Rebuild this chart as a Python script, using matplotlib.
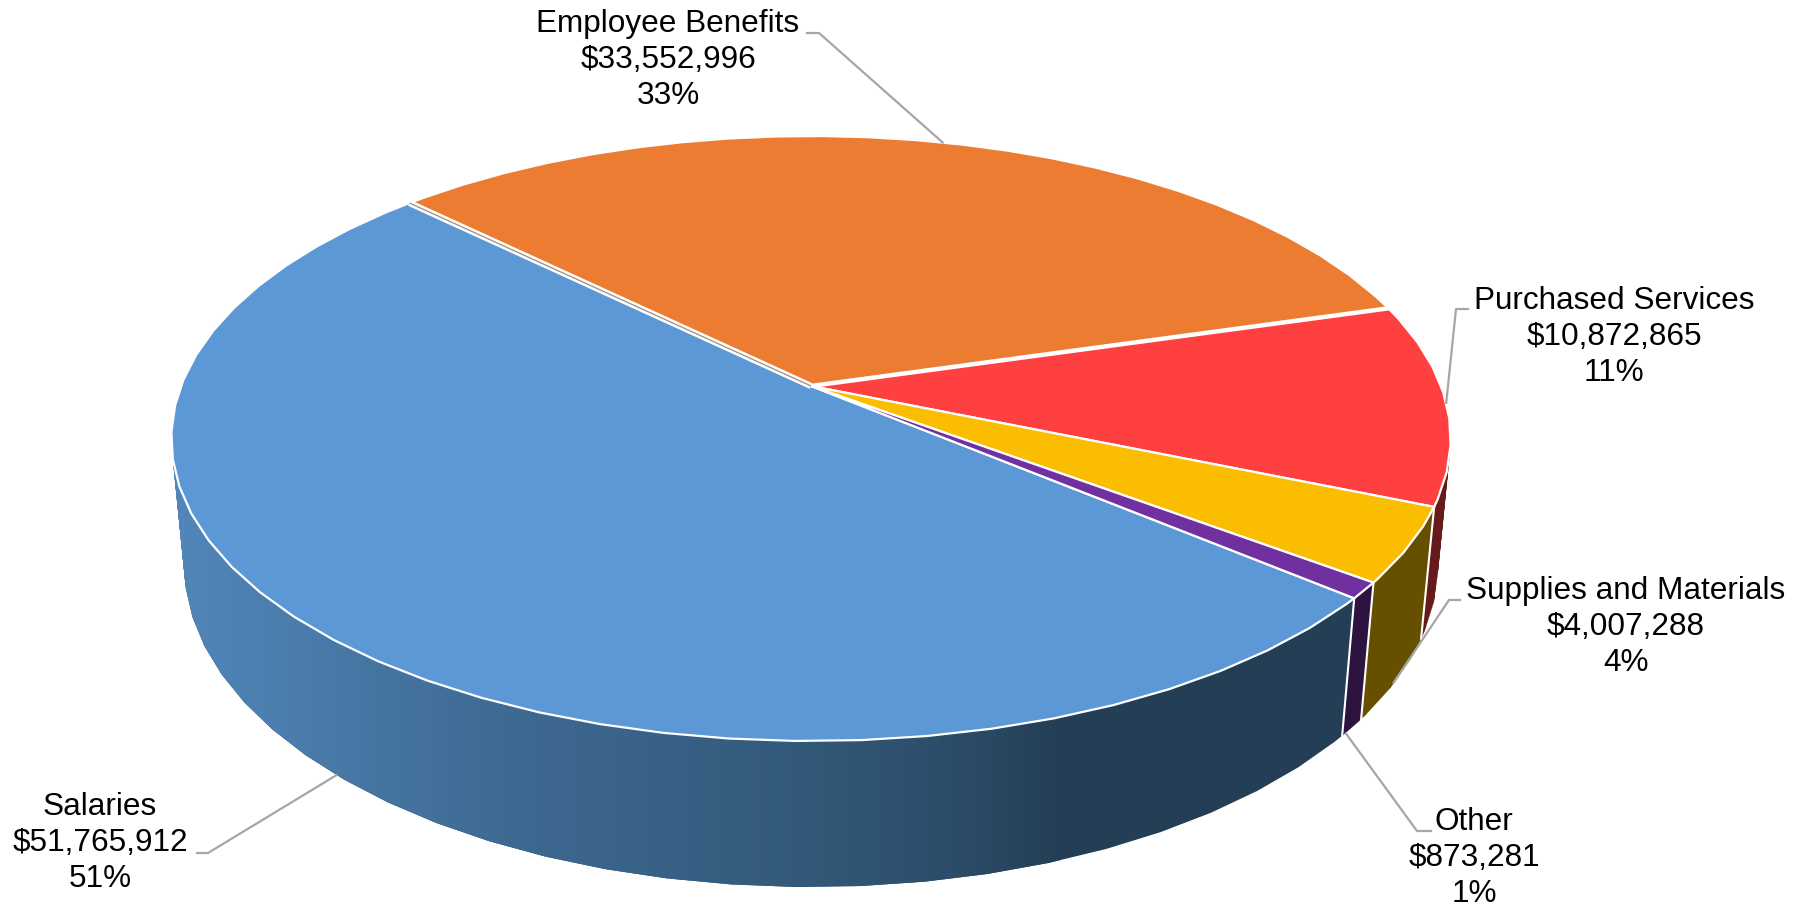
"""
Expenditure split drawn as a tilted 3D pie with perspective, saved to out.png.
"""
import numpy as np
import matplotlib
matplotlib.use("Agg")
import matplotlib.pyplot as plt
from matplotlib.patches import PathPatch, Polygon
from matplotlib.path import Path
from matplotlib.colors import LinearSegmentedColormap

categories = ["Salaries", "Employee Benefits", "Purchased Services",
              "Supplies and Materials", "Other"]
amounts = [51765912, 33552996, 10872865, 4007288, 873281]
percents = [51, 33, 11, 4, 1]

top_colors = ["#5B98D5", "#EB7C31", "#FF4040", "#FBBD00", "#7030A0"]
side_colors = ["#243F55", "#6B3A16", "#661A1A", "#665000", "#2C1340"]

# label centre (x, y of the middle line), text end of the leader, and its elbow
label_pos = [(100, 843), (668, 60), (1614, 337), (1626, 627), (1474, 858)]
leader_start = [(197, 853), (807, 33), (1468, 309), (1460, 600), (1431, 831)]
leader_elbow = [(208, 853), (819, 33), (1456, 309), (1449, 600), (1417, 831)]
leader_on_bottom = [True, False, False, True, True]
leader_nudge = [(0, 0), (0, 0), (0, 0), (-3, 3), (-6, 6)]

# pie geometry in pixels
CX, CY = 811, 386
A, B, K = 630.0, 293.4, 0.1736
START_DEG = 40.0  # Salaries starts here, going clockwise from 3 o'clock
VANISH_Y = 6800.0
FACET_DEG = 5.0  # the rim is a polygon, not a true curve
FACET_PHASE = 1.2


def top_rim(deg):
    t = np.radians(deg)
    u, v = np.cos(t), np.sin(t)
    w = 1 - K * v
    return CX + A * u / w, CY + B * v / w


def bottom_rim(deg):
    x, y = top_rim(deg)
    h = 146 - 0.06 * (741 - y)
    s = 1 - h / (VANISH_Y - y)
    return CX + (x - CX) * s, y + h


def arc(func, a0, a1):
    grid = np.arange(np.ceil((a0 - FACET_PHASE) / FACET_DEG),
                     np.floor((a1 - FACET_PHASE) / FACET_DEG) + 1) * FACET_DEG + FACET_PHASE
    degs = np.concatenate([[a0], grid[(grid > a0) & (grid < a1)], [a1]])
    x, y = func(degs)
    return np.column_stack([x, y])


def wall_path(a0, a1):
    """Wall of a slice as one closed quad per facet, all wound the same way."""
    top = arc(top_rim, a0, a1)
    bot = arc(bottom_rim, a0, a1)
    verts, codes = [], []
    for j in range(len(top) - 1):
        quad = np.array([top[j], top[j + 1], bot[j + 1], bot[j]])
        x, y = quad[:, 0], quad[:, 1]
        area = np.sum(x * np.roll(y, -1) - np.roll(x, -1) * y)
        if area < 0:
            quad = quad[::-1]
        verts.extend(list(quad) + [quad[0]])
        codes.extend([Path.MOVETO, Path.LINETO, Path.LINETO, Path.LINETO, Path.CLOSEPOLY])
    return Path(np.array(verts), codes)


total = sum(amounts)
spans = [a / total * 360 for a in amounts]
# clockwise order on the disc: Salaries, Benefits, Services, Supplies, Other
starts = []
ang = START_DEG
for span in spans:
    starts.append(ang)
    ang += span

fig = plt.figure(figsize=(18.06, 9.09), dpi=100)
ax = fig.add_axes([0, 0, 1, 1])
ax.set_xlim(0, 1806)
ax.set_ylim(909, 0)
ax.axis("off")

# side walls, back to front
blue_ramp = LinearSegmentedColormap.from_list(
    "wall", [(0, "#5287BB"), (0.37, "#3F6A93"), (0.70, "#335A7B"),
             (0.88, "#2C4D69"), (1, "#243F55")])
for i in [2, 3, 4]:
    a0, a1 = starts[i], starts[i] + spans[i]
    ax.add_patch(PathPatch(wall_path(a0, a1), fc=side_colors[i], ec=side_colors[i],
                           lw=0.3, zorder=2))

a0, a1 = starts[0], starts[0] + spans[0]
salaries_wall = PathPatch(wall_path(a0, a1), fc=side_colors[0], ec="none", zorder=2)
ax.add_patch(salaries_wall)
grad = np.linspace(0, 1, 512).reshape(1, -1)
im = ax.imshow(grad, cmap=blue_ramp, extent=[170, 1060, 909, 0], aspect="auto", zorder=2.1)
im.set_clip_path(salaries_wall)
ax.set_xlim(0, 1806)
ax.set_ylim(909, 0)

# white seams where the front walls meet
for deg in [starts[0], starts[4], starts[3]]:
    st, sb = top_rim(deg), bottom_rim(deg)
    ax.plot([st[0], sb[0]], [st[1], sb[1]], color="white", lw=1.5, zorder=2.6)

# top faces
for i in range(len(categories)):
    a0, a1 = starts[i], starts[i] + spans[i]
    face = np.vstack([[CX, CY], arc(top_rim, a0, a1)])
    ax.add_patch(Polygon(face, closed=True, fc=top_colors[i], ec="white",
                         lw=1.6, zorder=3, joinstyle="round"))

# wider gaps either side of Employee Benefits
for deg, width in [(starts[1], 4.5), (starts[2], 3.2)]:
    rx, ry = top_rim(deg)
    ax.plot([CX, rx], [CY, ry], color="white", lw=width, zorder=3.2, solid_capstyle="butt")
rx, ry = top_rim(starts[1])
ax.plot([CX, rx], [CY, ry], color="#9C8C80", lw=0.9, zorder=3.3, solid_capstyle="butt")

# leaders and labels
for i, name in enumerate(categories):
    mid = starts[i] + spans[i] / 2
    end = bottom_rim(mid) if leader_on_bottom[i] else top_rim(mid)
    ax.plot([leader_start[i][0], leader_elbow[i][0], end[0] + leader_nudge[i][0]],
            [leader_start[i][1], leader_elbow[i][1], end[1] + leader_nudge[i][1]],
            color="#A6A6A6", lw=1.6, zorder=4)
    text = f"{name}\n${amounts[i]:,}\n{percents[i]}%"
    ax.text(label_pos[i][0], label_pos[i][1], text, ha="center", va="center",
            ma="center", fontsize=22.7, color="black", linespacing=1.28,
            family=["Liberation Sans", "DejaVu Sans"], zorder=5)

fig.savefig("out.png", dpi=100)
plt.close(fig)
